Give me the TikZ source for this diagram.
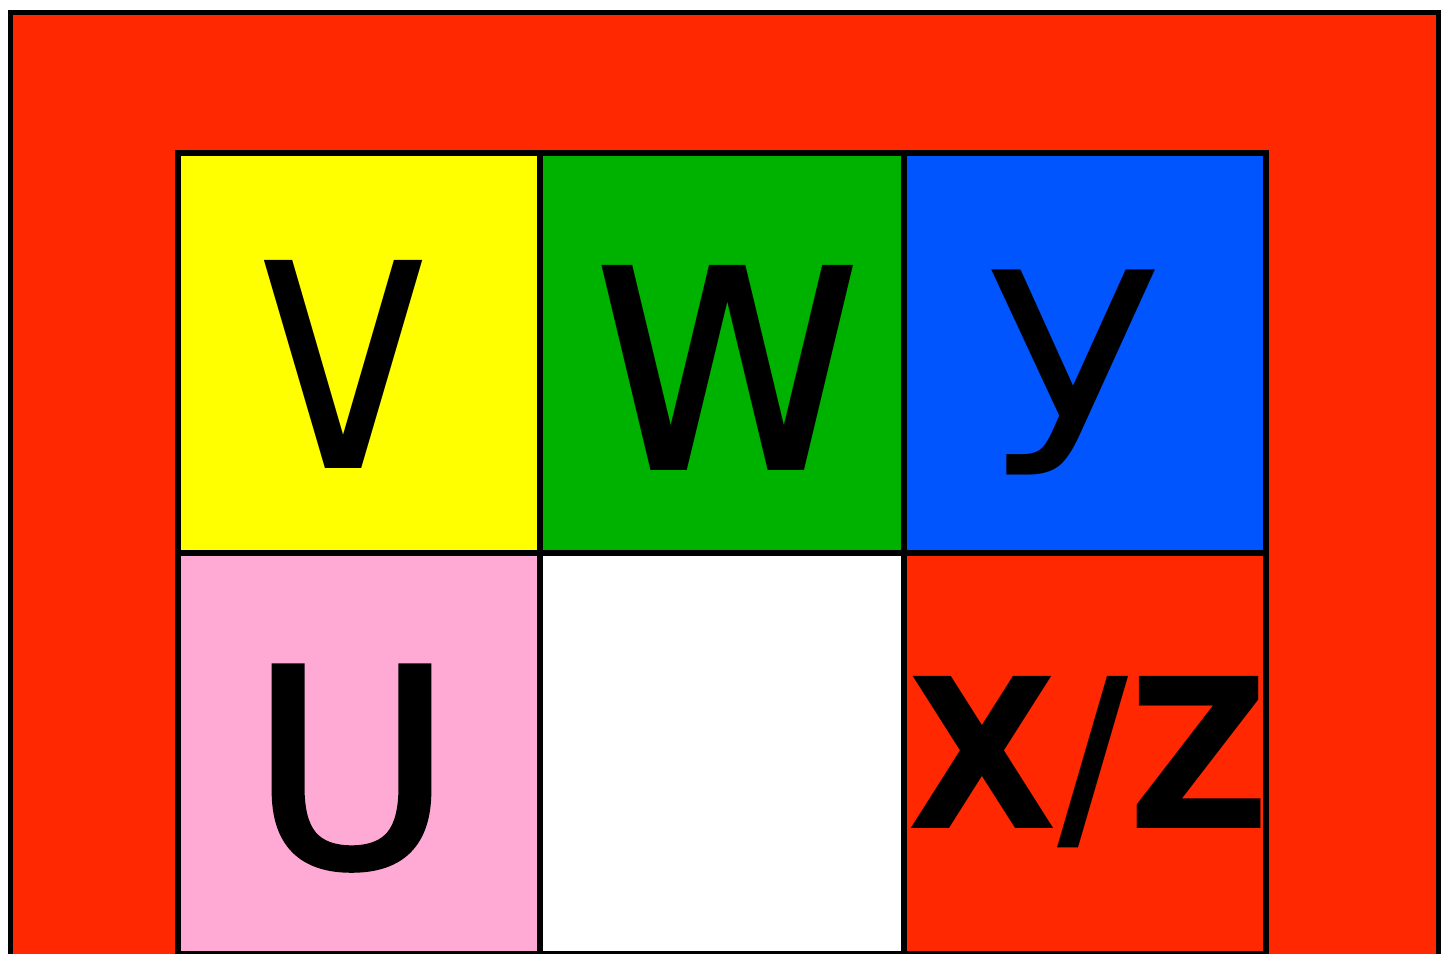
\documentclass[tikz,border=0pt]{standalone}
\usepackage{fontspec}
\setmainfont{DejaVu Sans}
\newfontfamily\semibfont[FakeBold=2]{DejaVu Sans}
\usepackage{graphicx}
\definecolor{bgred}{RGB}{255,40,0}
\definecolor{cyellow}{RGB}{255,255,0}
\definecolor{cgreen}{RGB}{0,178,0}
\definecolor{cblue}{RGB}{0,85,255}
\definecolor{cpink}{RGB}{255,170,213}
\tikzset{
  cell/.style={draw=black, line width=0.06cm, anchor=north west, inner sep=0pt, outer sep=0pt,
    minimum height=4.005cm},
  letter/.style={inner sep=0pt, outer sep=0pt, text=black}
}
\begin{document}
\begin{tikzpicture}[x=0.01cm,y=-0.01cm]
\useasboundingbox (0,0) rectangle (1448,953);
\clip (0,0) rectangle (1448,953);
\fill[white] (0,0) rectangle (1448,953);
\node[draw=black, fill=bgred, line width=0.05cm, anchor=north west, inner sep=0pt,
  minimum width=14.28cm, minimum height=11cm] (outer) at (7.5,9.5) {};
% cells
\node[cell, fill=cyellow, minimum width=3.625cm] (c11) at (177.5,152.5) {};
\node[cell, fill=cgreen,  minimum width=3.635cm] (c12) at (540,152.5) {};
\node[cell, fill=cblue,   minimum width=3.625cm] (c13) at (903.5,152.5) {};
\node[cell, fill=cpink,   minimum width=3.625cm] (c21) at (177.5,553) {};
\node[cell, fill=white,   minimum width=3.635cm] (c22) at (540,553) {};
\node[cell, fill=bgred,   minimum width=3.625cm] (c23) at (903.5,553) {};
% letters
\node[letter] (lv) at (344,364) {\resizebox{1.76cm}{2.08cm}{v}};
\node[letter] (lw) at (727.5,367.5) {\resizebox{2.80cm}{2.05cm}{w}};
\node[letter] (ly) at (1074,372.5) {\resizebox*{1.82cm}{2.05cm}{y}};
\node[letter] (lu) at (351.5,768) {\resizebox{2.02cm}{2.00cm}{\semibfont U}};
\node[letter] (lxz) at (1088.5,752) {\resizebox{3.62cm}{1.52cm}{\bfseries X\smash{/}Z}};
\end{tikzpicture}
\end{document}
